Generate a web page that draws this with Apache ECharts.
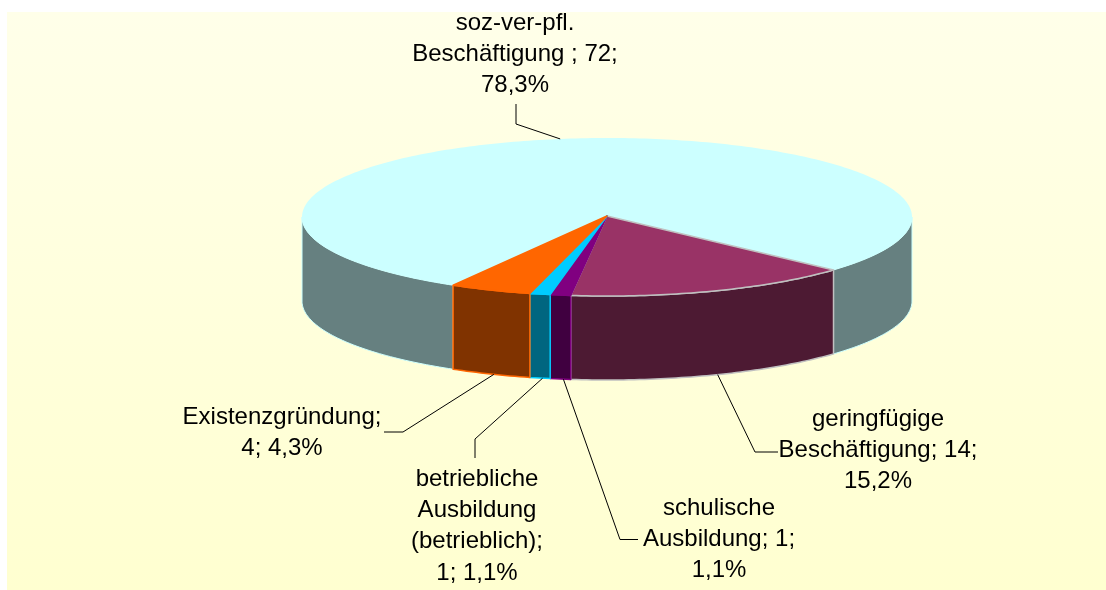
<!DOCTYPE html>
<html><head><meta charset="utf-8">
<style>html,body{margin:0;padding:0;background:#fff}#c{width:1106px;height:590px}</style>
<script src="https://cdn.jsdelivr.net/npm/echarts@6/dist/echarts.min.js"></script>
</head><body><div id="c"></div>
<script>
// Data, clockwise from the start angle
const categories = ['soz-ver-pfl. Beschäftigung', 'geringfügige Beschäftigung', 'schulische Ausbildung', 'betriebliche Ausbildung (betrieblich)', 'Existenzgründung'];
const values = [72, 14, 1, 1, 4];
const labelTexts = ['soz-ver-pfl.\nBeschäftigung ; 72;\n78,3%', 'geringfügige\nBeschäftigung; 14;\n15,2%', 'schulische\nAusbildung; 1;\n1,1%', 'betriebliche\nAusbildung\n(betrieblich);\n1; 1,1%', 'Existenzgründung;\n4; 4,3%'];
// Style
const topColors = ['#CCFFFF', '#993366', '#800080', '#00CCFF', '#FF6600'];
const sideColors = ['#668080', '#4D1A33', '#400040', '#006680', '#803300'];
const edgeColors = ['#CCFFFF', '#C0C0C0', '#800080', '#00CCFF', '#FF6600'];
// Layout of the tilted pie
const cx = 607, cy = 217, rx = 305, ry = 79, depth = 84, startDeg = 120.3;
const total = values.reduce((a, b) => a + b, 0);
const sliceStart = [], sliceEnd = [];
let acc = startDeg;
values.forEach((v, i) => { sliceStart[i] = acc; acc += v / total * 360; sliceEnd[i] = acc; });
const rad = d => d * Math.PI / 180;
const pt = (deg, dz) => [cx + rx * Math.cos(rad(deg)), cy + ry * Math.sin(rad(deg)) + (dz || 0)];
function arc(a, b, dz) {
  const out = [], n = Math.max(2, Math.ceil(Math.abs(b - a) / 1));
  for (let k = 0; k <= n; k++) out.push(pt(a + (b - a) * k / n, dz));
  return out;
}
// Label layout: text centre, first line y, and the leader line's elbow and end
const labelCenters = [[515, 22], [878, 418], [719, 507], [477, 478], [282, 416]];
const anchorShift = [0, -0.7, -0.56, -0.5, -0.7];
const anchorDepth = [0, 1, 1, 1, 1];
const leaderBends = [[[516, 124], [516, 104]], [[755, 452], [778, 452]], [[620, 539.5], [638, 539.5]], [[475, 439], [475, 458]], [[403, 432], [384, 432]]];

function renderSide(params, api) {
  const i = api.value(0), children = [];
  [[0, 180], [360, 540]].forEach(r => {
    const a = Math.max(sliceStart[i], r[0]), b = Math.min(sliceEnd[i], r[1]);
    if (b <= a) return;
    children.push({ type: 'polygon', shape: { points: arc(a, b, 0).concat(arc(b, a, depth)) },
      style: { fill: sideColors[i], stroke: edgeColors[i], lineWidth: i === 0 ? 1 : 1.5, lineJoin: 'round' } });
  });
  return { type: 'group', children };
}
function renderTop(params, api) {
  const i = api.value(0);
  return { type: 'polygon', shape: { points: [[cx, cy - 1]].concat(arc(sliceStart[i], sliceEnd[i], 0)) },
    style: { fill: topColors[i], stroke: edgeColors[i], lineWidth: i === 0 ? 0 : 1.5, lineJoin: 'round' } };
}
function renderLabel(params, api) {
  const i = api.value(0);
  const mid = (sliceStart[i] + sliceEnd[i]) / 2 + anchorShift[i];
  const a = pt(mid, anchorDepth[i] * depth);
  return { type: 'group', children: [
    { type: 'polyline', shape: { points: [a].concat(leaderBends[i]) }, style: { stroke: '#000', lineWidth: 1, fill: 'none' } },
    { type: 'text', style: { text: labelTexts[i], x: labelCenters[i][0], y: labelCenters[i][1] - 14.5, align: 'center', verticalAlign: 'top',
      fill: '#000', font: '24px "Liberation Sans", Arial, sans-serif', lineHeight: 31.3 } }
  ] };
}
const indices = values.map((v, i) => [i, v]);
const chart = echarts.init(document.getElementById('c'), null, { renderer: 'canvas' });
chart.setOption({
  animation: false,
  graphic: [{ type: 'rect', z: -1, shape: { x: 7, y: 12, width: 1099, height: 578 },
    style: { fill: new echarts.graphic.LinearGradient(0, 0, 0, 1, [{ offset: 0, color: '#FFFFE9' }, { offset: 1, color: '#FFFFD0' }]) } }],
  series: [
    { type: 'custom', coordinateSystem: 'none', silent: true, z: 2, renderItem: renderSide, data: indices },
    { type: 'custom', coordinateSystem: 'none', silent: true, z: 3, renderItem: renderTop, data: indices },
    { type: 'custom', coordinateSystem: 'none', silent: true, z: 4, renderItem: renderLabel, data: indices }
  ]
});
</script></body></html>
